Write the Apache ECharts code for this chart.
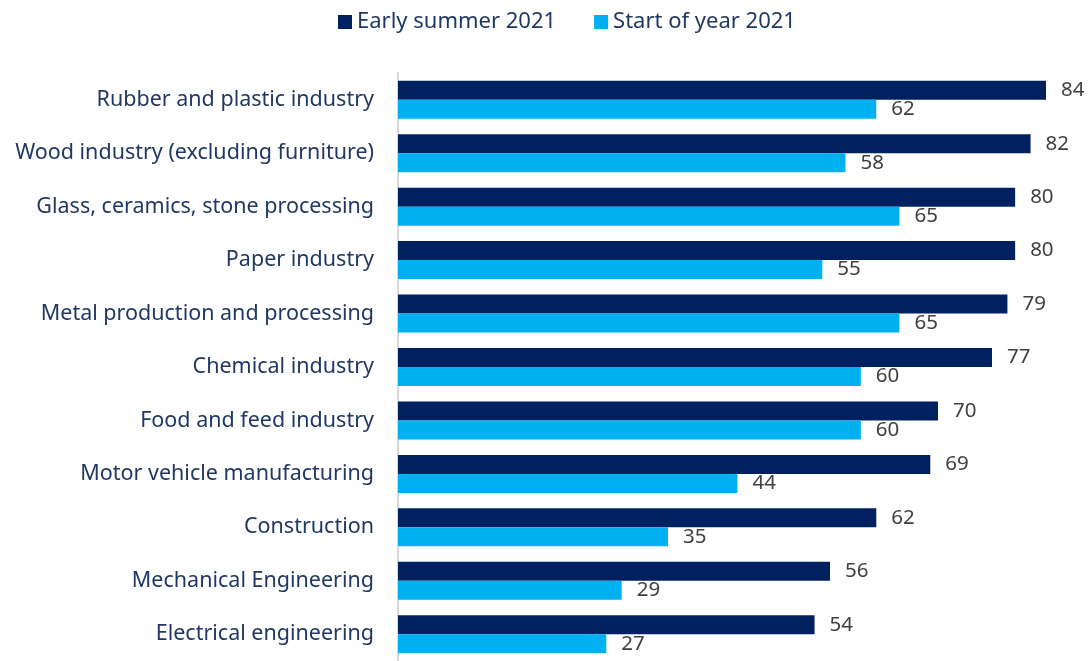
<!DOCTYPE html>
<html>
<head>
<meta charset="utf-8">
<title>Capacity utilisation by industry</title>
<script src="https://cdn.jsdelivr.net/npm/echarts@6/dist/echarts.min.js"></script>
<style>
  html, body { margin: 0; padding: 0; background: #fff; }
  #main { width: 1092px; height: 661px; }
</style>
</head>
<body>
<div id="main"></div>
<script>
var categories = [
    'Rubber and plastic industry',
    'Wood industry (excluding furniture)',
    'Glass, ceramics, stone processing',
    'Paper industry',
    'Metal production and processing',
    'Chemical industry',
    'Food and feed industry',
    'Motor vehicle manufacturing',
    'Construction',
    'Mechanical Engineering',
    'Electrical engineering'
];
var seriesNames = ['Early summer 2021', 'Start of year 2021'];
var earlySummer = [84, 82, 80, 80, 79, 77, 70, 69, 62, 56, 54];
var startOfYear = [62, 58, 65, 55, 65, 60, 60, 44, 35, 29, 27];

var myChart = echarts.init(document.getElementById('main'));

// 数值标签：放在柱子右侧
var valueLabel = {
    show: true,
    position: 'right',
    distance: 15,
    color: '#404040',
    fontSize: 20.5,
    fontFamily: 'Noto Sans',
    padding: [3, 0, 0, 0]
};

var option = {
    animation: false,
    textStyle: { fontFamily: 'Noto Sans' },
    legend: {
        top: 6,
        left: 333,
        itemWidth: 14,
        itemHeight: 14,
        itemGap: 38,
        icon: 'rect',
        textStyle: { color: '#1f3864', fontSize: 22, fontFamily: 'Noto Sans' },
        data: seriesNames
    },
    grid: {
        left: 398,
        right: 46,
        top: 73,
        height: 592,
        containLabel: false
    },
    xAxis: {
        type: 'value',
        min: 0,
        max: 84,
        show: false
    },
    yAxis: {
        type: 'category',
        inverse: true,
        data: categories,
        axisLine: { show: true, lineStyle: { color: '#d9d9d9', width: 2 } },
        axisTick: { show: false },
        axisLabel: {
            margin: 24,
            color: '#1f3864',
            fontSize: 21.5,
            fontFamily: 'Noto Sans',
            padding: [4, 0, 0, 0]
        }
    },
    series: [
        {
            name: seriesNames[0],
            type: 'bar',
            data: earlySummer,
            barWidth: 19,
            barGap: '0%',
            itemStyle: { color: '#002060' },
            label: valueLabel
        },
        {
            name: seriesNames[1],
            type: 'bar',
            data: startOfYear,
            barWidth: 19,
            itemStyle: { color: '#00b0f0' },
            label: valueLabel
        }
    ]
};
myChart.setOption(option);
</script>
</body>
</html>
